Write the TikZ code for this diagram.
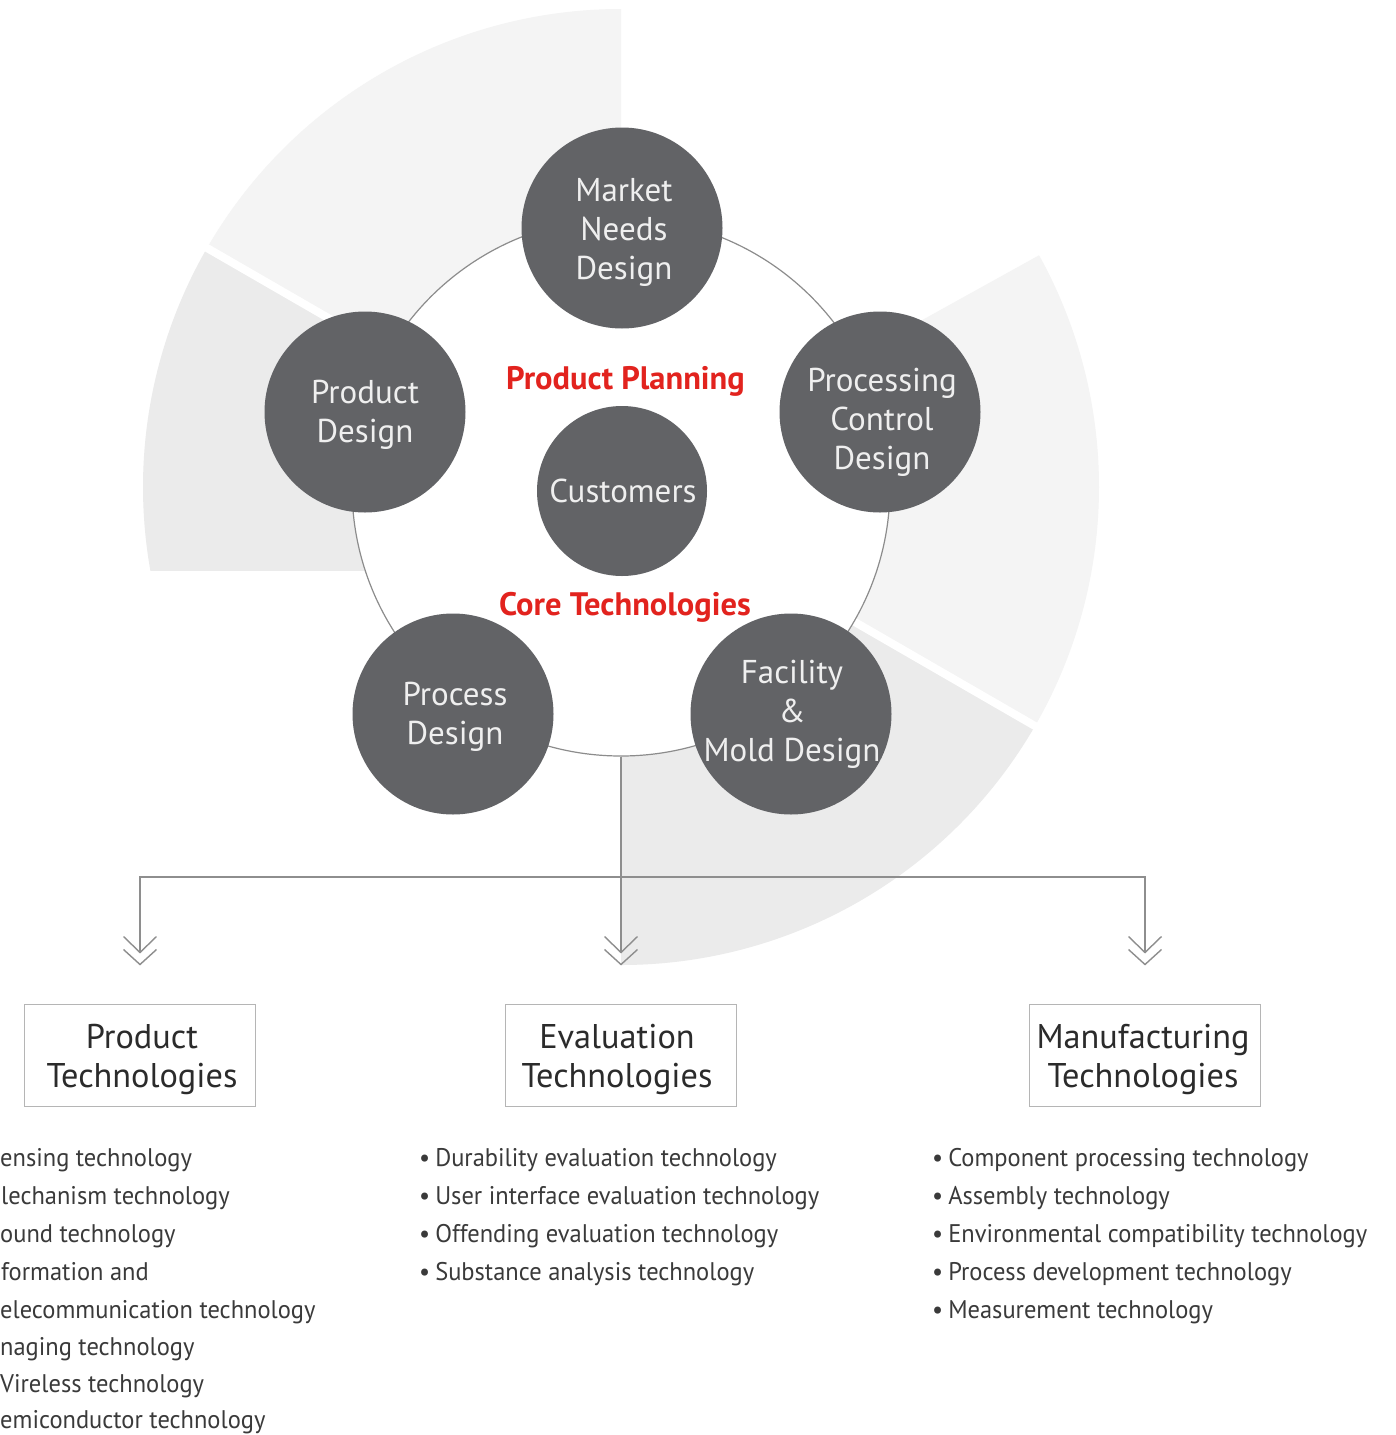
\documentclass[tikz,border=0pt]{standalone}
\usepackage{fontspec}
\setmainfont{PT Sans}
\newfontfamily\listfont{PT Sans}[FakeStretch=0.96]
\definecolor{segA}{HTML}{F4F4F4}
\definecolor{segB}{HTML}{EBEBEB}
\definecolor{nodegray}{RGB}{98,99,102}
\definecolor{ringline}{HTML}{8C8C8C}
\definecolor{connline}{HTML}{8E8E8E}
\definecolor{boxline}{HTML}{B5B5B5}
\definecolor{txtdark}{HTML}{2B2B2B}
\definecolor{listtxt}{HTML}{3A3A3A}
\definecolor{redtxt}{RGB}{226,35,30}
\definecolor{lighttxt}{HTML}{EFEFEF}
\tikzset{
  bignode/.style={circle, fill=nodegray, minimum size=201pt, inner sep=0pt},
  custnode/.style={bignode, minimum size=170pt},
  circtext/.style={text=lighttxt, inner sep=0pt, font=\fontsize{33}{39}\selectfont, align=center},
  redlabel/.style={text=redtxt, inner sep=0pt, font=\fontsize{32.5}{36}\selectfont\bfseries},
  techbox/.style={draw=boxline, line width=1pt, minimum width=231pt, minimum height=102pt, inner sep=0pt},
  boxtext/.style={text=txtdark, font=\fontsize{34.3}{39}\selectfont, align=center, inner sep=0pt},
  listtext/.style={anchor=base west, text=listtxt, font=\listfont\fontsize{25.5}{38}\selectfont, inner sep=0pt},
  conn/.style={draw=connline, line width=1.4pt},
  chevline/.style={draw=connline, line width=1.4pt},
  chev/.pic={\draw[chevline] (-16.5,-16) -- (0,0) -- (16.5,-16); \draw[chevline] (-16.5,-3) -- (0,12) -- (16.5,-3);}
}
\begin{document}
\begin{tikzpicture}[x=1pt,y=-1pt]
\useasboundingbox (0,0) rectangle (1396,1435);
\fill[white] (0,0) rectangle (1396,1435);
\coordinate (C) at (621,487);
% background ring segments
\fill[segA] (C) -- ++(-90:478) arc[start angle=-90,end angle=-150,radius=478] -- cycle;
\fill[segB] (C) -- ++(-150:478) arc[start angle=-150,end angle=-190.1,radius=478] -- (621,571) -- cycle;
\fill[segA] (C) -- ++(30:478) arc[start angle=30,end angle=-29,radius=478] -- cycle;
\fill[segB] (C) -- ++(90:478) arc[start angle=90,end angle=30,radius=478] -- cycle;
\draw[white, line width=8pt] (C) -- ++(-150:490);
\draw[white, line width=8pt] (C) -- ++(30:490);
% inner disc
\node[circle, draw=ringline, fill=white, line width=1.2pt, minimum size=538pt, inner sep=0pt] (ring) at (C) {};
% boxes
\node[techbox] (boxP) at (140,1055) {};
\node[techbox] (boxE) at (621,1055) {};
\node[techbox] (boxM) at (1145,1055) {};
\node[boxtext] (boxPt) at (142,1059) {Product\\Technologies};
\node[boxtext] (boxEt) at (617,1059) {Evaluation\\Technologies};
\node[boxtext] (boxMt) at (1143,1059) {Manufacturing\\Technologies};
% connectors
\coordinate (jM) at (621,877);
\draw[conn, shorten >=51pt] (ring.south) -- (boxE.north);
\draw[conn, shorten >=51pt] (jM) -| (boxP.north);
\draw[conn, shorten >=51pt] (jM) -| (boxM.north);
\pic at ([yshift=51pt]boxP.north) {chev};
\pic at ([yshift=51pt]boxE.north) {chev};
\pic at ([yshift=51pt]boxM.north) {chev};
% circles
\node[bignode] (mkt) at (622,228) {};
\node[bignode] (pd) at (365,412) {};
\node[bignode] (pcd) at (880,412) {};
\node[bignode] (prd) at (453,714) {};
\node[bignode] (fmd) at (791,714) {};
\node[custnode] (cust) at (622,491) {};
\node[circtext] (mktT) at (624,232) {Market\\Needs\\Design};
\node[circtext] (pdT) at (365,415) {Product\\Design};
\node[circtext] (pcdT) at (882,422) {Processing\\Control\\Design};
\node[circtext] (prdT) at (455,717) {Process\\Design};
\node[circtext] (fmdT) at (792,714.5) {Facility\\\&\\Mold Design};
\node[circtext] (custT) at (623,491) {Customers};
\node[redlabel] (pp) at (625.5,381) {Product Planning};
\node[redlabel] (ct) at (625,607) {Core Technologies};
% lists
\node[listtext] (l1) at (0,1166) {ensing technology};
\node[listtext] (l2) at (1,1204) {lechanism technology};
\node[listtext] (l3) at (0,1242) {ound technology};
\node[listtext] (l4) at (1,1280) {formation and};
\node[listtext] (l5) at (0,1318) {elecommunication technology};
\node[listtext] (l6) at (0,1355) {naging technology};
\node[listtext] (l7) at (0,1392) {Vireless technology};
\node[listtext] (l8) at (0,1428) {emiconductor technology};
\node[listtext] (e1) at (419,1166) {•\hspace{5pt}Durability evaluation technology};
\node[listtext] (e2) at (419,1204) {•\hspace{5pt}User interface evaluation technology};
\node[listtext] (e3) at (419,1242) {•\hspace{5pt}Offending evaluation technology};
\node[listtext] (e4) at (419,1280) {•\hspace{5pt}Substance analysis technology};
\node[listtext] (m1) at (932,1166) {•\hspace{5pt}Component processing technology};
\node[listtext] (m2) at (932,1204) {•\hspace{5pt}Assembly technology};
\node[listtext] (m3) at (932,1242) {•\hspace{5pt}Environmental compatibility technology};
\node[listtext] (m4) at (932,1280) {•\hspace{5pt}Process development technology};
\node[listtext] (m5) at (932,1318) {•\hspace{5pt}Measurement technology};
\end{tikzpicture}
\end{document}
